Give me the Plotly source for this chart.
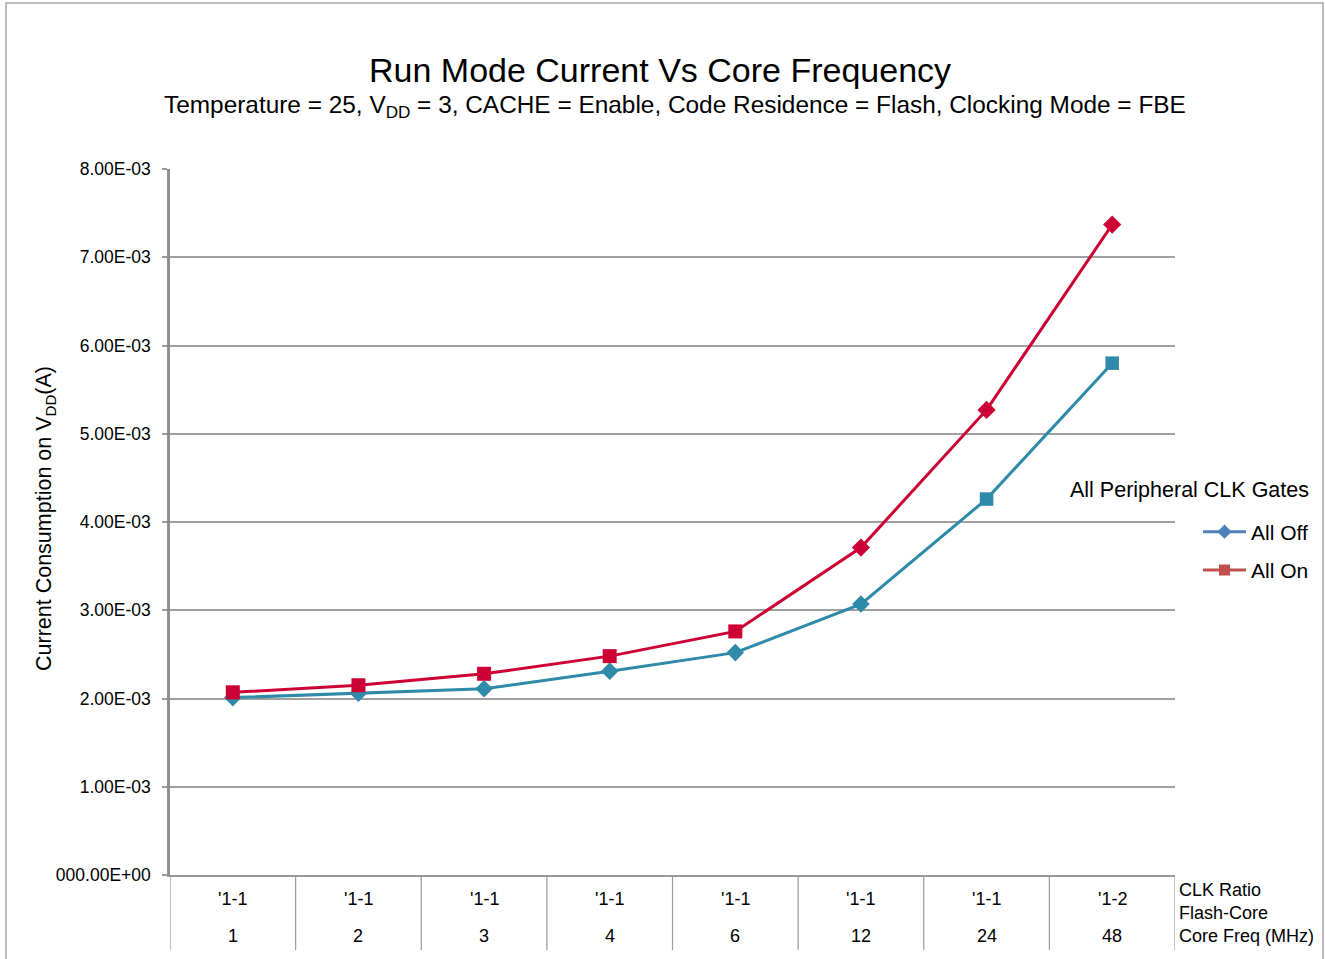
import plotly.graph_objects as go

# ---------------- data ----------------
core_freq = ["1", "2", "3", "4", "6", "12", "24", "48"]
clk_ratio = ["'1-1", "'1-1", "'1-1", "'1-1", "'1-1", "'1-1", "'1-1", "'1-2"]
all_off = [2.01e-3, 2.06e-3, 2.11e-3, 2.31e-3, 2.52e-3, 3.07e-3, 4.26e-3, 5.80e-3]
all_on = [2.07e-3, 2.15e-3, 2.28e-3, 2.48e-3, 2.76e-3, 3.71e-3, 5.27e-3, 7.37e-3]
off_symbols = ["diamond", "diamond", "diamond", "diamond", "diamond", "diamond", "square", "square"]
on_symbols = ["square", "square", "square", "square", "square", "diamond", "diamond", "diamond"]
y_tickvals = [0, 0.001, 0.002, 0.003, 0.004, 0.005, 0.006, 0.007, 0.008]
y_ticktext = ["000.00E+00", "1.00E-03", "2.00E-03", "3.00E-03", "4.00E-03",
              "5.00E-03", "6.00E-03", "7.00E-03", "8.00E-03"]
row_labels = ["CLK Ratio", "Flash-Core", "Core Freq (MHz)"]
series_names = ["All Off", "All On"]

# ---------------- layout geometry ----------------
W, H = 1325, 959
L, R, T, B = 170, 150, 169, 84
PW, PH = W - L - R, H - T - B


def px_x(px):
    return (px - L) / PW


def px_y(py):
    return (H - B - py) / PH


FONT = "Liberation Sans, Arial, Helvetica, sans-serif"
GRID = "#a0a0a0"
TEAL = "#2E8AA8"
RED = "#CC0035"

fig = go.Figure()

fig.add_trace(go.Scatter(
    x=core_freq, y=all_off, mode="lines+markers", showlegend=False,
    line=dict(color=TEAL, width=3),
    marker=dict(symbol=off_symbols, size=13.5, color=TEAL),
))
fig.add_trace(go.Scatter(
    x=core_freq, y=all_on, mode="lines+markers", showlegend=False,
    line=dict(color=RED, width=3),
    marker=dict(symbol=on_symbols, size=14, color=RED),
))

# legend entries (legend uses the default office palette)
fig.add_trace(go.Scatter(
    x=[None], y=[None], mode="lines+markers", name=series_names[0], legendgroup="a",
    line=dict(color="#4F81BD", width=3), marker=dict(symbol="diamond", size=11, color="#4F81BD"),
))
fig.add_trace(go.Scatter(
    x=[None], y=[None], mode="lines+markers", name=series_names[1], legendgroup="b",
    line=dict(color="#C0504D", width=3), marker=dict(symbol="square", size=11, color="#C0504D"),
))

annotations = [
    dict(text="Run Mode Current Vs Core Frequency", x=px_x(660), y=px_y(70),
         xanchor="center", yanchor="middle",
         xref="paper", yref="paper", showarrow=False, font=dict(size=34, color="black")),
    dict(text="Temperature = 25, V<sub>DD</sub> = 3, CACHE = Enable, Code Residence = Flash, Clocking Mode = FBE",
         x=px_x(675), y=px_y(106), xanchor="center", yanchor="middle",
         xref="paper", yref="paper", showarrow=False,
         font=dict(size=24.4, color="black")),
    dict(text="Current Consumption on V<sub>DD</sub>(A)", x=px_x(45), y=px_y(519),
         xanchor="center", yanchor="middle",
         xref="paper", yref="paper", showarrow=False, textangle=-90,
         font=dict(size=21.5, color="black")),
    dict(text="All Peripheral CLK Gates", x=px_x(1311), y=px_y(490), xref="paper", yref="paper",
         xanchor="right", yanchor="middle", showarrow=False, font=dict(size=21.5, color="black")),
]
for i, f in enumerate(core_freq):
    annotations.append(dict(text=clk_ratio[i], x=i, xref="x", y=0, yref="paper", yshift=-24,
                            xanchor="center", yanchor="middle", showarrow=False,
                            font=dict(size=18, color="black")))
    annotations.append(dict(text=f, x=i, xref="x", y=0, yref="paper", yshift=-61,
                            xanchor="center", yanchor="middle", showarrow=False,
                            font=dict(size=18, color="black")))
for j, lab in enumerate(row_labels):
    annotations.append(dict(text=lab, x=1, xref="paper", xshift=2, xanchor="left",
                            y=0, yref="paper", yshift=[-15, -38, -61][j], yanchor="middle",
                            showarrow=False, font=dict(size=18, color="black")))

shapes = [
    # outer frame
    dict(type="rect", xref="paper", yref="paper", x0=px_x(6), x1=px_x(1323),
         y0=px_y(975), y1=px_y(3), line=dict(color="#a8a8a8", width=1.5), layer="below"),
]
# category divider lines below the axis
for k in range(len(core_freq) + 1):
    shapes.append(dict(type="line", xref="x", yref="paper", x0=k - 0.5, x1=k - 0.5,
                       y0=0, y1=px_y(950), line=dict(color="#999999", width=1.2)))

fig.update_layout(
    width=W, height=H,
    margin=dict(l=L, r=R, t=T, b=B, autoexpand=False),
    paper_bgcolor="white", plot_bgcolor="white",
    font=dict(family=FONT, color="black"),
    annotations=annotations, shapes=shapes,
    legend=dict(x=px_x(1198), xanchor="left", y=px_y(551), yanchor="middle",
                font=dict(size=21, color="black"), itemwidth=43, tracegroupgap=8,
                bgcolor="rgba(0,0,0,0)"),
)
fig.update_xaxes(type="category", range=[-0.5, 7.5], showticklabels=False, ticks="",
                 showgrid=False, showline=True, linecolor="#999999", linewidth=1.5,
                 zeroline=False, fixedrange=True)
fig.update_yaxes(range=[0, 0.008], tickvals=y_tickvals, ticktext=y_ticktext,
                 tickfont=dict(size=17.5, color="black"), ticks="outside", ticklen=5,
                 tickcolor="#999999", tickwidth=1.5, ticklabelstandoff=8,
                 showgrid=True, gridcolor=GRID, gridwidth=1.5,
                 showline=True, linecolor="#8f8f8f", linewidth=2.5, zeroline=False,
                 fixedrange=True)

fig.write_html("out.html", config={"displayModeBar": False},
               post_script="document.body.style.margin='0';document.body.style.overflow='hidden';")
